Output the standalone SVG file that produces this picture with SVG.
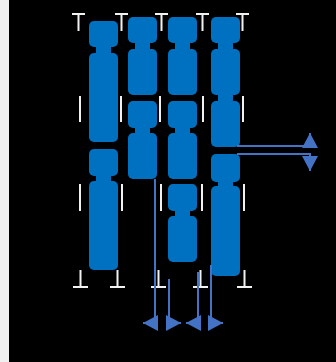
<svg xmlns="http://www.w3.org/2000/svg" width="336" height="362" viewBox="0 0 336 362">
  <style>
    .seg { fill: #0070C0; }
    .tick { stroke: #F2F2F2; stroke-width: 2; fill: none; }
    .link { stroke: #4472C4; stroke-width: 2; fill: none; }
  </style>
  <defs>
    <marker id="head" viewBox="0 0 15 16" refX="15" refY="8" markerWidth="15" markerHeight="16" markerUnits="userSpaceOnUse" orient="auto">
      <path d="M0,0 L15,8 L0,16 Z" fill="#4472C4"/>
    </marker>
  </defs>

  <!-- backdrop -->
  <rect x="0" y="0" width="336" height="362" fill="#000000"/>
  <rect x="0" y="0" width="9" height="362" fill="#F0F0F0"/>

  <!-- end caps and band ticks -->
  <g id="ticks">
    <path class="tick" d="M72,14 H85 M78.5,14 V31"/>
    <path class="tick" d="M115,14 H128 M121.5,14 V31"/>
    <path class="tick" d="M155,14 H168 M161.5,14 V31"/>
    <path class="tick" d="M196,14 H209 M202.5,14 V31"/>
    <path class="tick" d="M236,14 H249 M242.5,14 V31"/>

    <path class="tick" d="M80,96 V122 M121,96 V122 M160,96 V122 M203,96 V122 M243,96 V122"/>
    <path class="tick" d="M80,184 V211 M122,184 V211 M161,184 V211 M202,184 V211 M244,184 V211"/>

    <path class="tick" d="M73,287 H88 M80.5,270 V287"/>
    <path class="tick" d="M110,287 H125 M117.5,270 V287"/>
    <path class="tick" d="M151,287 H166 M158.5,270 V287"/>
    <path class="tick" d="M193,287 H208 M200.5,270 V287"/>
    <path class="tick" d="M237,287 H252 M244.5,270 V287"/>
  </g>

  <!-- column 1 -->
  <g id="chr1a">
    <rect class="seg" x="96" y="45" width="15" height="10"/>
    <rect class="seg" x="89" y="21" width="29" height="26" rx="5"/>
    <rect class="seg" x="89" y="53" width="29" height="89" rx="5"/>
  </g>
  <g id="chr1b">
    <rect class="seg" x="96" y="174" width="15" height="9"/>
    <rect class="seg" x="89" y="149" width="29" height="27" rx="5"/>
    <rect class="seg" x="89" y="181" width="29" height="89" rx="5"/>
  </g>

  <!-- column 2 -->
  <g id="chr2a">
    <rect class="seg" x="135" y="41" width="15" height="10"/>
    <rect class="seg" x="128" y="17" width="29" height="26" rx="5"/>
    <rect class="seg" x="128" y="49" width="29" height="46" rx="5"/>
  </g>
  <g id="chr2b">
    <rect class="seg" x="135" y="126" width="15" height="9"/>
    <rect class="seg" x="128" y="101" width="29" height="27" rx="5"/>
    <rect class="seg" x="128" y="133" width="29" height="46" rx="5"/>
  </g>

  <!-- column 3 -->
  <g id="chr3a">
    <rect class="seg" x="175" y="41" width="15" height="10"/>
    <rect class="seg" x="168" y="17" width="29" height="26" rx="5"/>
    <rect class="seg" x="168" y="49" width="29" height="46" rx="5"/>
  </g>
  <g id="chr3b">
    <rect class="seg" x="175" y="126" width="15" height="9"/>
    <rect class="seg" x="168" y="101" width="29" height="27" rx="5"/>
    <rect class="seg" x="168" y="133" width="29" height="46" rx="5"/>
  </g>
  <g id="chr3c">
    <rect class="seg" x="175" y="209" width="15" height="9"/>
    <rect class="seg" x="168" y="184" width="29" height="27" rx="5"/>
    <rect class="seg" x="168" y="216" width="29" height="46" rx="5"/>
  </g>

  <!-- column 4 -->
  <g id="chr4a">
    <rect class="seg" x="218" y="41" width="15" height="10"/>
    <rect class="seg" x="218" y="93" width="15" height="10"/>
    <rect class="seg" x="211" y="17" width="29" height="26" rx="5"/>
    <rect class="seg" x="211" y="49" width="29" height="46" rx="5"/>
    <rect class="seg" x="211" y="101" width="29" height="46" rx="5"/>
  </g>
  <g id="chr4b">
    <rect class="seg" x="218" y="180" width="15" height="8"/>
    <rect class="seg" x="211" y="154" width="29" height="28" rx="5"/>
    <rect class="seg" x="211" y="186" width="29" height="90" rx="5"/>
  </g>

  <!-- connectors -->
  <g id="connectors">
    <path class="link" d="M237,146 H310 V133" marker-end="url(#head)"/>
    <path class="link" d="M237,154 H310 V171" marker-end="url(#head)"/>
    <path class="link" d="M155,179 V323 H143" marker-end="url(#head)"/>
    <path class="link" d="M169,279 V323 H181" marker-end="url(#head)"/>
    <path class="link" d="M198,272 V323 H186" marker-end="url(#head)"/>
    <path class="link" d="M211,265 V323 H223" marker-end="url(#head)"/>
  </g>
</svg>
